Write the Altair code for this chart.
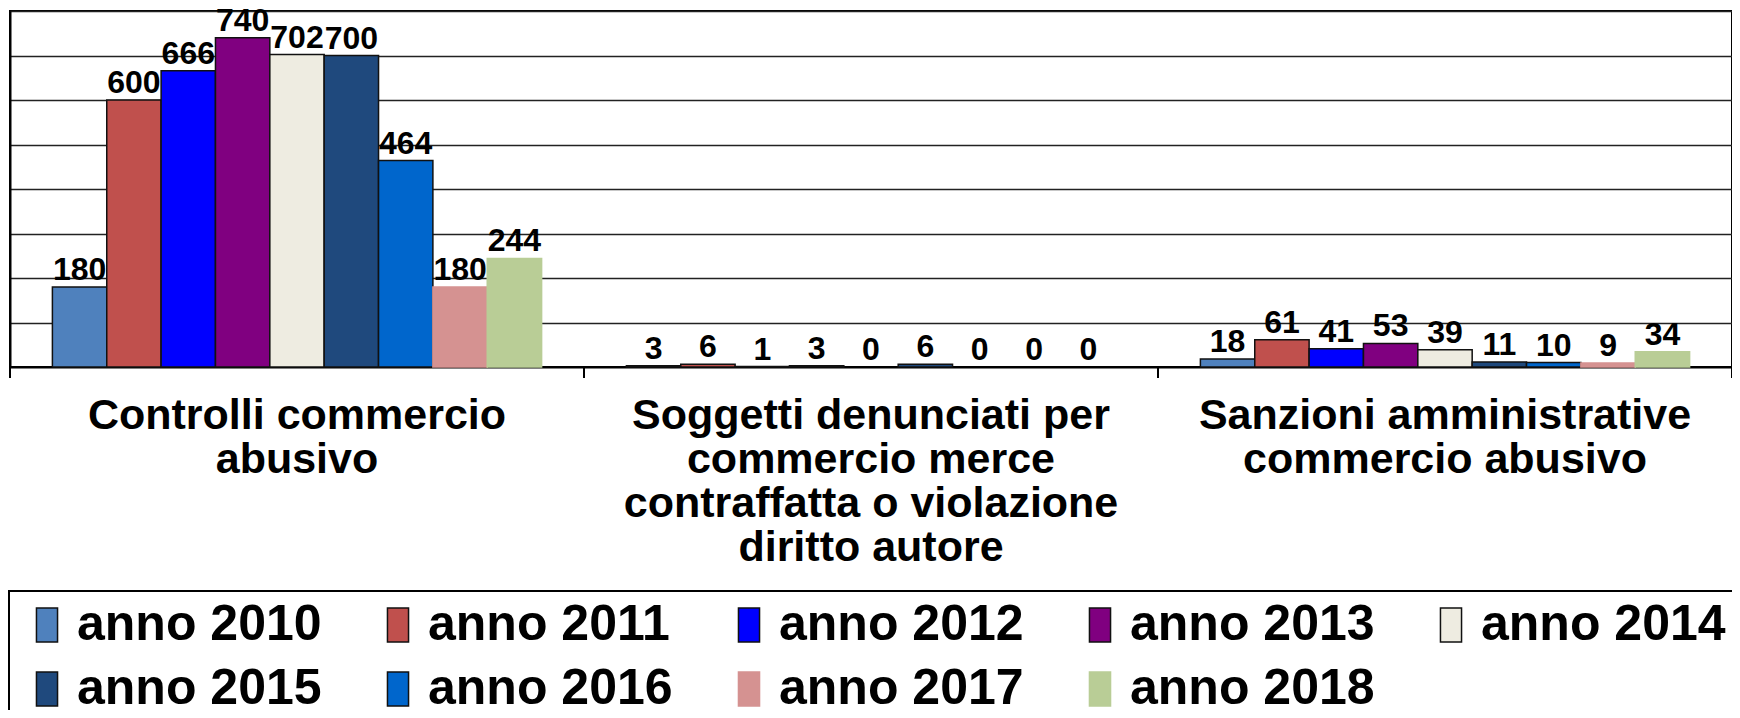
import altair as alt
import pandas as pd

categories = [
    "Controlli commercio\nabusivo",
    "Soggetti denunciati per\ncommercio merce\ncontraffatta o violazione\ndiritto autore",
    "Sanzioni amministrative\ncommercio abusivo",
]
years = ["anno 2010", "anno 2011", "anno 2012", "anno 2013", "anno 2014",
         "anno 2015", "anno 2016", "anno 2017", "anno 2018"]
controlli = [180, 600, 666, 740, 702, 700, 464, 180, 244]
soggetti = [3, 6, 1, 3, 0, 6, 0, 0, 0]
sanzioni = [18, 61, 41, 53, 39, 11, 10, 9, 34]

fill_colors = ["#4F81BD", "#C0504D", "#0000FF", "#800080", "#EEECE1",
               "#1F497D", "#0066CC", "#D59291", "#B9CD96"]
stroke_colors = ["#111111", "#111111", "#111111", "#111111", "#111111",
                 "#111111", "#111111", "#D59291", "#B9CD96"]

rows = []
for cat, vals in zip(categories, [controlli, soggetti, sanzioni]):
    for y, v in zip(years, vals):
        rows.append({"cat": cat, "year": y, "value": v})
df = pd.DataFrame(rows)
cat_df = pd.DataFrame({"cat": categories})

FONT = "Liberation Sans, Arial, Helvetica, sans-serif"
W, H = 1722, 356

x_enc = alt.X(
    "cat:N", sort=categories,
    scale=alt.Scale(paddingInner=0, paddingOuter=0),
    axis=alt.Axis(
        title=None, ticks=False, domain=True, domainColor="black", domainWidth=2,
        labelAngle=0, labelFont=FONT, labelFontSize=43, labelFontWeight="bold",
        labelColor="black", labelLimit=700, labelLineHeight=44, labelPadding=27,
        labelBaseline="top",
        labelExpr="split(datum.label, '\\n')",
    ),
)
y_enc = alt.Y(
    "value:Q",
    scale=alt.Scale(domain=[0, 800], nice=False),
    axis=alt.Axis(title=None, labels=False, ticks=False, domain=True,
                  domainColor="black", domainWidth=2,
                  grid=True, gridColor="#222222", gridWidth=1.6,
                  values=[100, 200, 300, 400, 500, 600, 700, 800]),
)
xoff = alt.XOffset("year:N", sort=years,
                   scale=alt.Scale(paddingInner=0, paddingOuter=0.78))

bars = alt.Chart(df).mark_bar(strokeWidth=1.5).encode(
    x=x_enc,
    xOffset=xoff,
    y=y_enc,
    color=alt.Color("year:N", sort=years,
                    scale=alt.Scale(domain=years, range=fill_colors),
                    legend=alt.Legend(title=None)),
    stroke=alt.Stroke("year:N", sort=years,
                      scale=alt.Scale(domain=years, range=stroke_colors),
                      legend=alt.Legend(title=None)),
    strokeOpacity=alt.condition("datum.value == 0", alt.value(0), alt.value(1)),
)

labels = alt.Chart(df).mark_text(
    font=FONT, fontSize=32, fontWeight="bold", color="black",
    baseline="alphabetic", dy=-7,
).encode(
    x=alt.X("cat:N", sort=categories),
    xOffset=xoff,
    y="value:Q",
    text="value:Q",
)

cat_ticks = alt.Chart(cat_df).mark_rule(color="black", strokeWidth=2).encode(
    x=alt.X("cat:N", sort=categories, bandPosition=0),
    y=alt.value(H),
    y2=alt.value(H + 11),
)
end_tick = alt.Chart(cat_df).mark_rule(color="black", strokeWidth=2).encode(
    x=alt.value(W),
    y=alt.value(H),
    y2=alt.value(H + 11),
)

chart = alt.layer(bars, labels, cat_ticks, end_tick).properties(
    width=W, height=H,
    autosize=alt.AutoSizeParams(type="none"),
    padding={"left": 2, "top": 3, "right": 0, "bottom": 343},
).configure_view(
    stroke="black", strokeWidth=2
).configure_legend(
    orient="none", legendX=-1, legendY=580,
    direction="horizontal", columns=5, gridAlign="all",
    labelFont=FONT, labelFontSize=50, labelFontWeight="bold", labelColor="black",
    labelLimit=600, labelOffset=5,
    symbolType="M-0.62,-1H0.62V1H-0.62Z", symbolSize=1156, symbolStrokeWidth=1.5,
    symbolOffset=4,
    columnPadding=47, rowPadding=14, padding=9,
    strokeColor="black", strokeWidth=2,
)

chart.save("out.html", embed_options={"renderer": "svg", "actions": False})
